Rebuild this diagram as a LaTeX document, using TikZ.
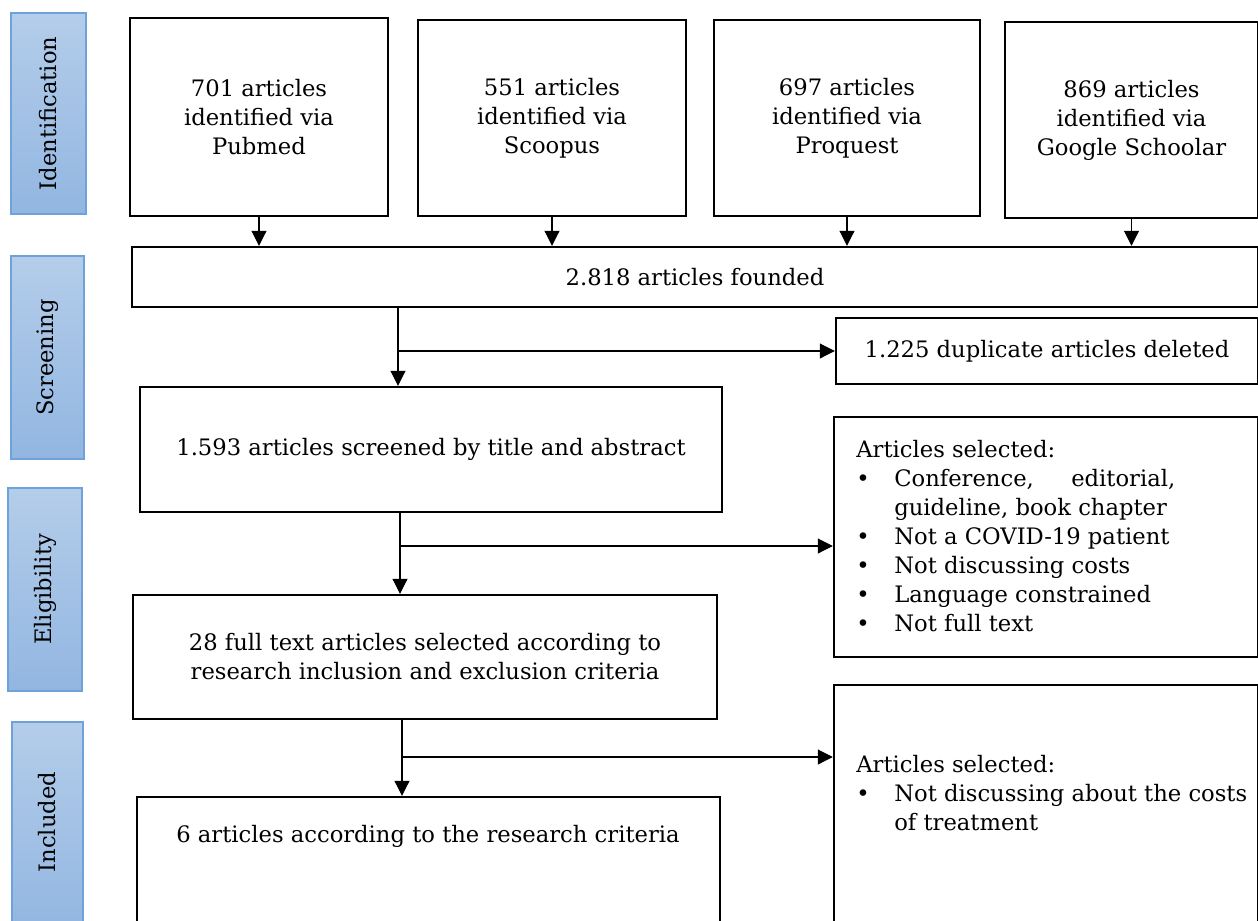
\documentclass[tikz,border=0pt]{standalone}
\usepackage{fontspec}
\setmainfont{DejaVu Serif}
\usetikzlibrary{fit,arrows.meta}
\newcommand\diagfont{\fontsize{12.9}{16.5}\selectfont}
\definecolor{sidetop}{HTML}{B4CDEA}
\definecolor{sidebot}{HTML}{92B6E1}
\definecolor{sideborder}{HTML}{6FA2DA}
\begin{document}
\begin{tikzpicture}[x=0.02cm,y=-0.02cm,
  box/.style={draw=black, line width=1.4pt, inner sep=0pt},
  side/.style={draw=sideborder, line width=0.6pt, top color=sidetop, bottom color=sidebot, inner sep=0pt},
  sidetext/.style={font=\diagfont, rotate=90},
  conn/.style={line width=0.6pt, -{Triangle[width=8.5pt,length=8.5pt]}},
  lbl/.style={font=\diagfont, align=center, inner sep=0pt},
  listtext/.style={font=\diagfont, anchor=north west, inner sep=0pt},
]
\useasboundingbox (0,0) rectangle (1258,920);
\clip (0,0) rectangle (1258,920);

% side bars
\node[side, fit={(11,13) (86,214)}] (s1) {};
\node[sidetext] (s1t) at (s1.center) {Identification};
\node[side, fit={(11,256) (84,459)}] (s2) {};
\node[sidetext] (s2t) at (s2.center) {Screening};
\node[side, fit={(8,488) (82,691)}] (s3) {};
\node[sidetext] (s3t) at (s3.center) {Eligibility};
\node[side, fit={(12,722) (83,930)}] (s4) {};
\node[sidetext] (s4t) at (47,822) {Included};

% identification boxes
\node[box, fit={(130,18) (388,216)}] (b1) {};
\node[lbl] (b1t) at (b1.center) {701 articles\\identified via\\Pubmed};
\node[box, fit={(418,20) (686,216)}] (b2) {};
\node[lbl] (b2t) at (b2.center) {551 articles\\identified via\\Scoopus};
\node[box, fit={(714,20) (980,216)}] (b3) {};
\node[lbl] (b3t) at (b3.center) {697 articles\\identified via\\Proquest};
\node[box, fit={(1005,22) (1258,218)}] (b4) {};
\node[lbl] (b4t) at (b4.center) {869 articles\\identified via\\Google Schoolar};

% screening
\node[box, fit={(132,247) (1258,307)}] (tot) {};
\node[lbl] (tott) at (tot.center) {2.818 articles founded};
\node[box, fit={(836,318) (1258,384)}] (dup) {};
\node[lbl] (dupt) at (dup.center) {1.225 duplicate articles deleted};
\node[box, fit={(140,387) (722,512)}] (scr) {};
\node[lbl] (scrt) at (scr.center) {1.593 articles screened by title and abstract};

% eligibility
\node[box, fit={(133,595) (717,719)}] (full) {};
\node[lbl] (fullt) at (full.center) {28 full text articles selected according to\\research inclusion and exclusion criteria};
\node[box, fit={(834,417) (1258,657)}] (elist) {};
\node[listtext] (elisttext) at (856,437) {\begin{tabular}{@{}p{0.76cm}@{}l@{}}
\multicolumn{2}{@{}l@{}}{Articles selected:}\\
\textbullet & \makebox[5.62cm][s]{Conference,\hfill editorial,}\\
 & guideline, book chapter\\
\textbullet & Not a COVID-19 patient\\
\textbullet & Not discussing costs\\
\textbullet & Language constrained\\
\textbullet & Not full text
\end{tabular}};

% included
\node[box, fit={(137,797) (720,960)}] (inc) {};
\node[lbl] (inctext) at (428,836) {6 articles according to the research criteria};
\node[box, fit={(834,685) (1258,960)}] (ilist) {};
\node[listtext] (ilisttext) at (856,752) {\begin{tabular}{@{}p{0.76cm}@{}l@{}}
\multicolumn{2}{@{}l@{}}{Articles selected:}\\
\textbullet & Not discussing about the costs\\
 & of treatment
\end{tabular}};

% connectors
\draw[conn] (b1.south) -- (b1.south |- tot.north);
\draw[conn] (b2.south) -- (b2.south |- tot.north);
\draw[conn] (b3.south) -- (b3.south |- tot.north);
\draw[conn] (b4.south) -- (b4.south |- tot.north);

\coordinate (k1) at (398,0);
\coordinate (k2) at (400,0);
\coordinate (k3) at (402,0);
\coordinate (h2) at (0,546);
\coordinate (h3) at (0,757);
\draw[conn] (k1 |- tot.south) -- (k1 |- scr.north);
\draw[conn] (k1 |- dup.west) -- (dup.west);
\draw[conn] (k2 |- scr.south) -- (k2 |- full.north);
\draw[conn] (k2 |- h2) -- (elist.west |- h2);
\draw[conn] (k3 |- full.south) -- (k3 |- inc.north);
\draw[conn] (k3 |- h3) -- (ilist.west |- h3);
\end{tikzpicture}
\end{document}
